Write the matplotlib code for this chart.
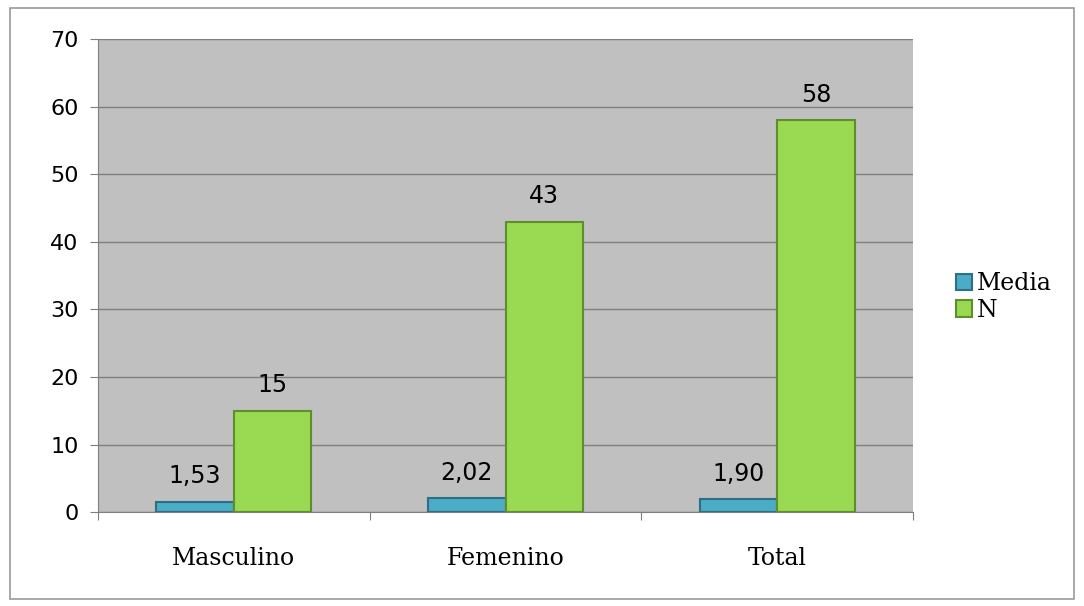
import matplotlib.pyplot as plt
from matplotlib.patches import Rectangle
import numpy as np

categories = ['Masculino', 'Femenino', 'Total']
media = [1.53, 2.02, 1.90]
n_values = [15, 43, 58]
media_labels = ['1,53', '2,02', '1,90']
n_labels = ['15', '43', '58']

fig = plt.figure(figsize=(10.84, 6.06), dpi=100)
ax = fig.add_axes([0.0904, 0.155, 0.7519, 0.7805])

# outer chart border
fig.patches.append(Rectangle((0.009, 0.012), 0.982, 0.975, transform=fig.transFigure,
                             fill=False, edgecolor='#9a9a9a', linewidth=1.2))

ax.set_facecolor('#c0c0c0')
x = np.arange(len(categories))
w = 0.285

b1 = ax.bar(x - w / 2, media, w, color='#4bacc6', edgecolor='#2f6f84', linewidth=1.5,
            label='Media', zorder=3)
b2 = ax.bar(x + w / 2, n_values, w, color='#9ad952', edgecolor='#5f8f2a', linewidth=1.5,
            label='N', zorder=3)

for rect, lab in zip(b1, media_labels):
    ax.text(rect.get_x() + rect.get_width() / 2, rect.get_height() + 2.0, lab,
            ha='center', va='bottom', fontsize=17, family='DejaVu Sans')
for rect, lab in zip(b2, n_labels):
    ax.text(rect.get_x() + rect.get_width() / 2, rect.get_height() + 2.0, lab,
            ha='center', va='bottom', fontsize=17, family='DejaVu Sans')

ax.set_ylim(0, 70)
ax.set_xlim(-0.5, 2.5)
ax.set_yticks(range(0, 71, 10))
ax.yaxis.grid(True, color='#7f7f7f', linewidth=1, zorder=0)
ax.set_axisbelow(True)

ax.set_xticks([-0.5, 0.5, 1.5, 2.5])
ax.set_xticklabels([])
ax.set_xticks(x, minor=True)
ax.set_xticklabels(categories, minor=True, fontsize=17, family='DejaVu Serif')
ax.tick_params(axis='x', which='minor', length=0, pad=25)
ax.tick_params(axis='x', which='major', length=6, color='#7f7f7f', direction='out')
ax.tick_params(axis='y', length=6, color='#7f7f7f', labelsize=16, pad=8)

for s in ['top', 'right']:
    ax.spines[s].set_visible(False)
ax.spines['left'].set_color('#7f7f7f')
ax.spines['bottom'].set_color('#7f7f7f')

leg = fig.legend(loc='center left', bbox_to_anchor=(0.862, 0.51), frameon=False,
                 prop={'family': 'DejaVu Serif', 'size': 17},
                 handlelength=0.7, handleheight=0.7, handletextpad=0.2, labelspacing=0.15)

fig.savefig('out.png', dpi=100)
